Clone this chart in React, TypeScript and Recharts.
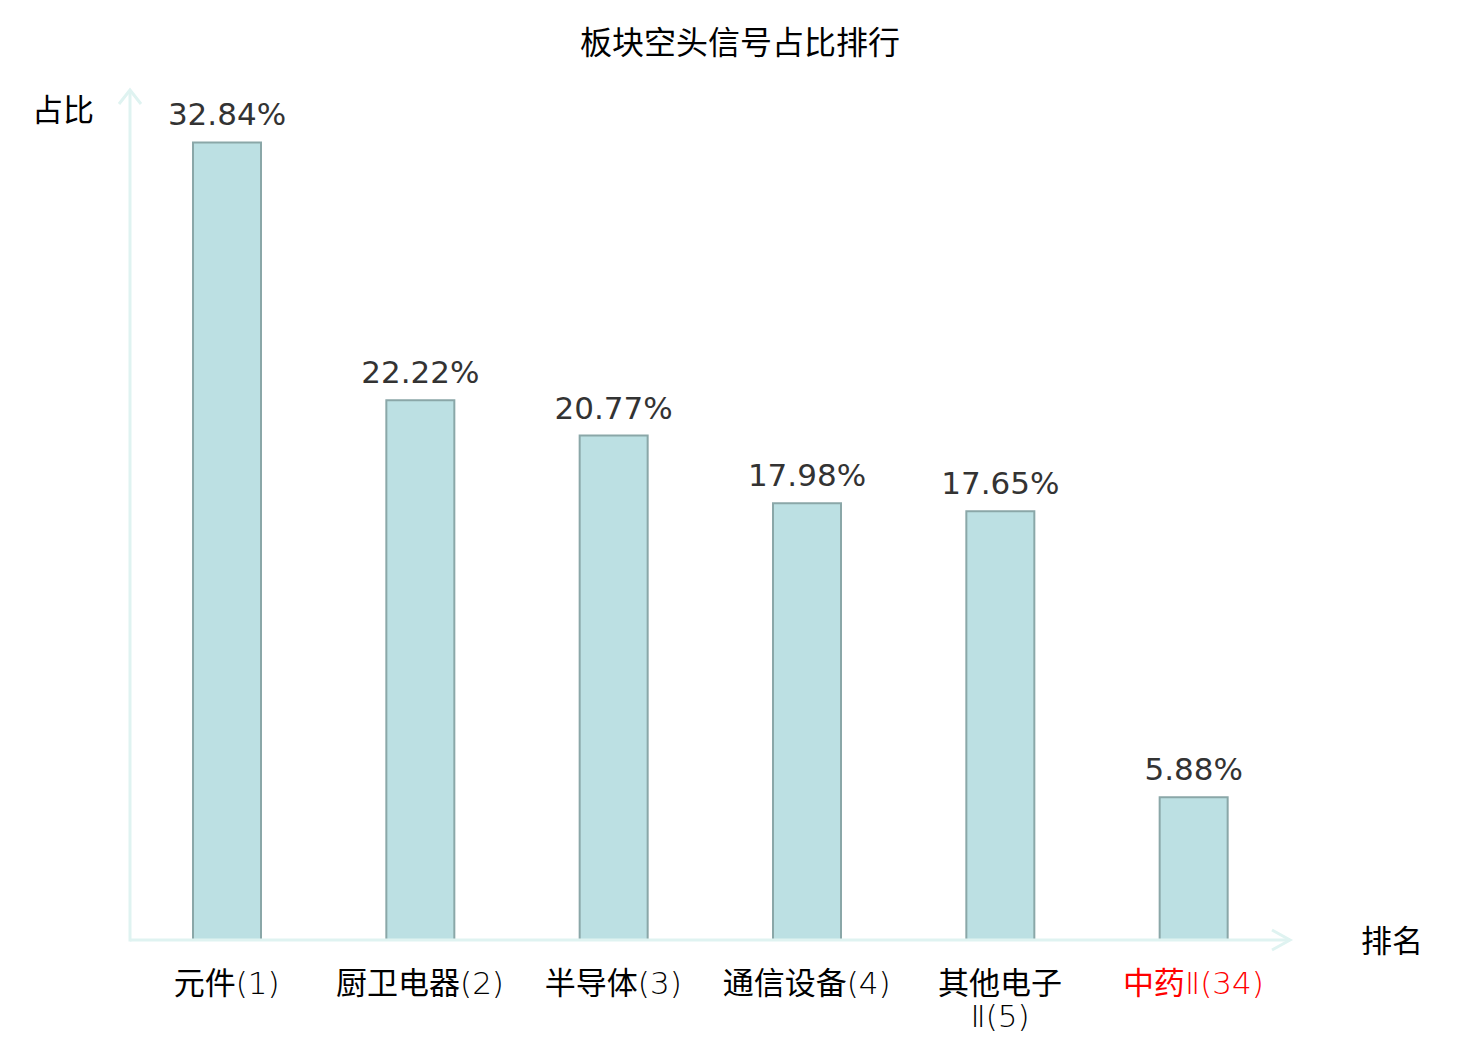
import { BarChart, Bar, XAxis, YAxis, LabelList } from "recharts";

// 板块空头信号占比排行
const sectors = ["元件(1)", "厨卫电器(2)", "半导体(3)", "通信设备(4)", "其他电子\nⅡ(5)", "中药Ⅱ(34)"];
const shares = [32.84, 22.22, 20.77, 17.98, 17.65, 5.88];
const highlighted = ["中药Ⅱ(34)"];

const chartData = sectors.map((name, i) => ({ name, share: shares[i] }));

const W = 1480;
const H = 1040;
const margin = { top: 90, right: 190, left: 130, bottom: 0 };
const xAxisHeight = 100;
const axisColor = "#dff3f1";
const numFont = "'DejaVu Sans', 'Noto Sans CJK SC', sans-serif";
const cjkFont = "'Noto Sans CJK SC', sans-serif";

// split a label into CJK and latin runs so each gets its own font
const splitRuns = (s: string) => s.match(/[\u4e00-\u9fff]+|[^\u4e00-\u9fff]+/g) || [];
const isCjk = (s: string) => /[\u4e00-\u9fff]/.test(s);

const SectorTick = (props: any) => {
  const { x, y, payload } = props;
  const lines = String(payload.value).split("\n");
  const fill = highlighted.includes(payload.value.replace("\n", "")) ? "#ff0000" : "#000000";
  return (
    <text x={x} y={y} textAnchor="middle" fill={fill} fontSize={31}>
      {lines.map((line, i) => (
        <tspan key={i} x={x} dy={i === 0 ? 46 : 33}>
          {splitRuns(line).map((run, j) =>
            isCjk(run) ? (
              <tspan key={j} fontFamily={cjkFont} fontWeight={400}>
                {run}
              </tspan>
            ) : (
              <tspan key={j} fontFamily="'DejaVu Sans'" fontWeight={200}>
                {run}
              </tspan>
            )
          )}
        </tspan>
      ))}
    </text>
  );
};

export default function App() {
  const plotLeft = margin.left;
  const plotRight = W - margin.right;
  const plotTop = margin.top;
  const plotBottom = H - margin.bottom - xAxisHeight;

  return (
    <div style={{ position: "absolute", left: 0, top: 0, width: W, height: H, background: "#fff" }}>
      <BarChart width={W} height={H} data={chartData} margin={margin} barCategoryGap={0}>
        <XAxis
          dataKey="name"
          height={xAxisHeight}
          axisLine={{ stroke: axisColor, strokeWidth: 3 }}
          tickLine={false}
          interval={0}
          tick={<SectorTick />}
        />
        <YAxis width={0} domain={[0, 35]} tick={false} tickLine={false} axisLine={false} />
        <Bar dataKey="share" barSize={68} fill="#bce0e3" stroke="#8aa7a8" strokeWidth={2} isAnimationActive={false}>
          <LabelList
            dataKey="share"
            position="top"
            offset={17}
            fill="#333333"
            fontSize={31}
            fontFamily={numFont}
            formatter={(v: any) => `${Number(v).toFixed(2)}%`}
          />
        </Bar>
      </BarChart>
      <svg width={W} height={H} style={{ position: "absolute", left: 0, top: 0, pointerEvents: "none" }}>
        <line x1={plotLeft} y1={plotTop} x2={plotLeft} y2={plotBottom + 1.5} stroke={axisColor} strokeWidth={3} />
        <polyline
          points={`${plotLeft - 11},${plotTop + 14} ${plotLeft},${plotTop} ${plotLeft + 11},${plotTop + 14}`}
          fill="none"
          stroke={axisColor}
          strokeWidth={3}
        />
        <polyline
          points={`${plotRight - 18},${plotBottom - 10} ${plotRight},${plotBottom} ${plotRight - 18},${plotBottom + 10}`}
          fill="none"
          stroke={axisColor}
          strokeWidth={3}
        />
        <text x={W / 2} y={54} textAnchor="middle" fontSize={32} fontFamily={cjkFont} fill="#000">
          板块空头信号占比排行
        </text>
        <text x={63} y={121} textAnchor="middle" fontSize={31} fontFamily={cjkFont} fill="#000">
          占比
        </text>
        <text x={1392} y={952} textAnchor="middle" fontSize={31} fontFamily={cjkFont} fill="#000">
          排名
        </text>
      </svg>
    </div>
  );
}
